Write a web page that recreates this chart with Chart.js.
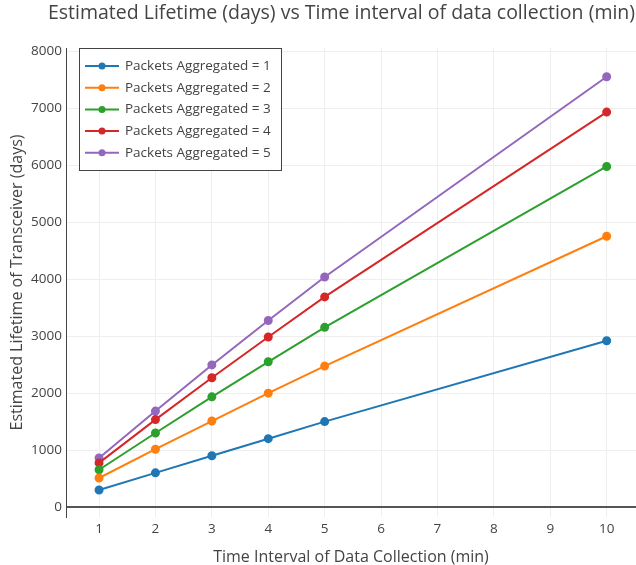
<!DOCTYPE html>
<html>
<head>
<meta charset="utf-8">
<script src="https://cdn.jsdelivr.net/npm/chart.js@4"></script>
<style>
  html, body { margin: 0; padding: 0; background: #fff; }
  #wrap { width: 636px; height: 565px; }
</style>
</head>
<body>
<div id="wrap"><canvas id="grafico" width="636" height="565"></canvas></div>
<script>
const intervalos = [1, 2, 3, 4, 5, 10];
const agregados1 = [300, 600, 900, 1200, 1500, 2920];
const agregados2 = [510, 1015, 1510, 2000, 2475, 4755];
const agregados3 = [655, 1300, 1935, 2550, 3155, 5980];
const agregados4 = [775, 1535, 2270, 2985, 3690, 6935];
const agregados5 = [860, 1685, 2495, 3275, 4040, 7555];
const nomes = ['Packets Aggregated = 1', 'Packets Aggregated = 2', 'Packets Aggregated = 3',
  'Packets Aggregated = 4', 'Packets Aggregated = 5'];
const xTicks = [1, 2, 3, 4, 5, 6, 7, 8, 9, 10];
const yTicks = [0, 1000, 2000, 3000, 4000, 5000, 6000, 7000, 8000];

const cores = ['#1f77b4', '#ff7f0e', '#2ca02c', '#d62728', '#9467bd'];
const series = [agregados1, agregados2, agregados3, agregados4, agregados5];
const fonte = "'Open Sans', sans-serif";

const datasets = series.map((vals, i) => ({
  label: nomes[i],
  data: vals.map((v, j) => ({ x: intervalos[j], y: v })),
  borderColor: cores[i],
  backgroundColor: cores[i],
  borderWidth: 2,
  pointRadius: 3.5,
  pointHoverRadius: 3.5,
  tension: 0
}));

// titulo e legenda desenhados a mao (legenda fica dentro da area do grafico)
const extras = {
  id: 'extras',
  afterDraw(chart) {
    const c = chart.ctx;
    c.save();
    c.fillStyle = '#444';
    c.font = '19.5px ' + fonte;
    c.textAlign = 'center';
    c.textBaseline = 'middle';
    c.fillText('Estimated Lifetime (days) vs Time interval of data collection (min)', 341.5, 13.5);

    const lx = 79, ly = 48, lw = 202, lh = 122;
    c.fillStyle = '#fff';
    c.fillRect(lx, ly, lw, lh);
    c.strokeStyle = '#444';
    c.lineWidth = 1;
    c.strokeRect(lx + 0.5, ly + 0.5, lw, lh);
    c.font = '13.5px ' + fonte;
    c.textAlign = 'left';
    chart.data.datasets.forEach((ds, i) => {
      const y = 66 + i * 21.7;
      c.strokeStyle = ds.borderColor;
      c.lineWidth = 2;
      c.beginPath();
      c.moveTo(85, y);
      c.lineTo(119, y);
      c.stroke();
      c.fillStyle = ds.borderColor;
      c.beginPath();
      c.arc(102, y, 3.5, 0, Math.PI * 2);
      c.fill();
      c.fillStyle = '#444';
      c.fillText(ds.label, 125, y);
    });
    c.restore();
  }
};

const ctx = document.getElementById('grafico').getContext('2d');
new Chart(ctx, {
  type: 'line',
  data: { datasets: datasets },
  options: {
    responsive: false,
    animation: false,
    events: [],
    layout: { autoPadding: false, padding: { top: 48, right: 0, left: 0, bottom: 0 } },
    plugins: {
      legend: { display: false },
      title: { display: false },
      tooltip: { enabled: false }
    },
    scales: {
      x: {
        type: 'linear',
        min: 0.414,
        max: 10.52,
        afterBuildTicks: s => { s.ticks = xTicks.map(v => ({ value: v })); },
        afterFit: s => { s.height = 48; },
        grid: { color: '#eee', lineWidth: 1, drawTicks: false },
        border: { display: false },
        ticks: { padding: 4, color: '#444', font: { family: fonte, size: 13.5 }, callback: v => String(v) },
        title: {
          display: true,
          text: 'Time Interval of Data Collection (min)',
          color: '#444',
          font: { family: fonte, size: 16 },
          padding: { top: 4, bottom: -2 }
        }
      },
      y: {
        min: -175,
        max: 8060,
        afterBuildTicks: s => { s.ticks = yTicks.map(v => ({ value: v })); },
        afterFit: s => { s.width = 66; },
        grid: {
          color: c => (c.tick && c.tick.value === 0) ? '#555' : '#eee',
          lineWidth: c => (c.tick && c.tick.value === 0) ? 2 : 1,
          drawTicks: false
        },
        border: { display: true, color: '#444', width: 1 },
        ticks: { padding: 4, color: '#444', font: { family: fonte, size: 13.5 }, callback: v => String(v) },
        title: {
          display: true,
          text: 'Estimated Lifetime of Transceiver (days)',
          color: '#444',
          font: { family: fonte, size: 16 },
          padding: { top: 8, bottom: 4 }
        }
      }
    }
  },
  plugins: [extras]
});
</script>
</body>
</html>
